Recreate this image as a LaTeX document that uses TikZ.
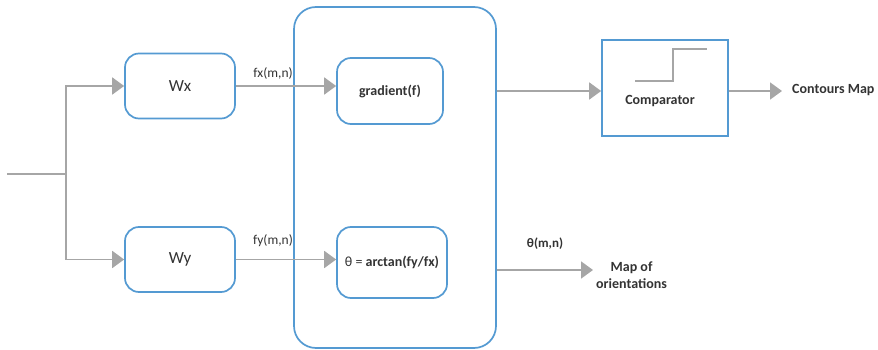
\documentclass[tikz,border=0pt]{standalone}
\usepackage{fontspec}
\setmainfont{Carlito}
\usetikzlibrary{arrows.meta}
\definecolor{boxblue}{HTML}{549AD2}
\definecolor{wiregray}{HTML}{A6A6A6}
\definecolor{ink}{HTML}{333333}
\begin{document}
\begin{tikzpicture}[x=1pt,y=-1pt,
  blk/.style={draw=boxblue,line width=1.7pt,rounded corners=14pt,fill=white,
    text=ink,inner sep=0pt,align=center},
  wire/.style={draw=wiregray,line width=1.9pt},
  arr/.style={wire,-{Triangle[length=12pt,width=17pt]}},
  lbl/.style={text=ink,inner sep=0pt,font=\fontsize{13.5}{16}\selectfont},
  bold/.style={text=ink,font=\fontsize{14}{17}\selectfont\bfseries}
]
\useasboundingbox (0,0) rectangle (878,350);

% outer processing block
\node[blk,rounded corners=22pt,minimum width=202pt,minimum height=341pt] (big) at (395,177.5) {};

% filters
\node[blk,minimum width=110pt,minimum height=65pt,font=\fontsize{17}{20}\selectfont] (wx) at (180,86) {Wx};
\node[blk,minimum width=110pt,minimum height=65pt,font=\fontsize{17}{20}\selectfont] (wy) at (180,259.5) {Wy};

% inner operations
\node[blk,minimum width=106pt,minimum height=66pt,font=\fontsize{14}{17}\selectfont\bfseries] (grad) at (390,91) {gradient(f)};
\node[blk,minimum width=110pt,minimum height=71pt,font=\fontsize{14}{17}\selectfont] (theta) at (392,262.5) {θ = \textbf{arctan(fy/fx)}};

% comparator
\node[draw=boxblue,line width=1.7pt,fill=white,minimum width=126pt,minimum height=96pt] (comp) at (665,88) {};
\node[bold] (complbl) at (660,101) {Comparator};
\draw[wire] (635,81) -- (673,81) -- (673,49) -- (707,49);

% outputs
\node[bold,anchor=west,inner xsep=10pt,inner ysep=0pt] (contours) at (782,90) {Contours Map};
\node[bold,align=center,anchor=west,inner xsep=3pt] (orient) at (593,275) {Map of\\orientations};

% input split
\coordinate (in) at (7,174);
\coordinate (split) at (66,174);
\draw[wire] (in) -- (split);
\draw[arr] (split) |- (wx.west);
\draw[arr] (split) |- (wy.west);

% filter outputs
\draw[arr] (wx.east) -- (wx.east -| grad.west);
\draw[arr] (wy.east) -- (wy.east -| theta.west);
\node[lbl] (fxl) at (273,73) {fx(m,n)};
\node[lbl] (fyl) at (273,241) {fy(m,n)};

% block outputs
\coordinate (gout) at (big.east |- 0,91);
\coordinate (tout) at (big.east |- 0,270);
\draw[arr] (gout) -- (gout -| comp.west);
\draw[arr] (comp.east |- 0,91) -- (contours.west |- 0,91);
\draw[arr] (tout) -- (orient.west |- tout);
\node[bold,font=\fontsize{13}{15}\selectfont\bfseries] (thl) at (545,244) {θ(m,n)};
\end{tikzpicture}
\end{document}
